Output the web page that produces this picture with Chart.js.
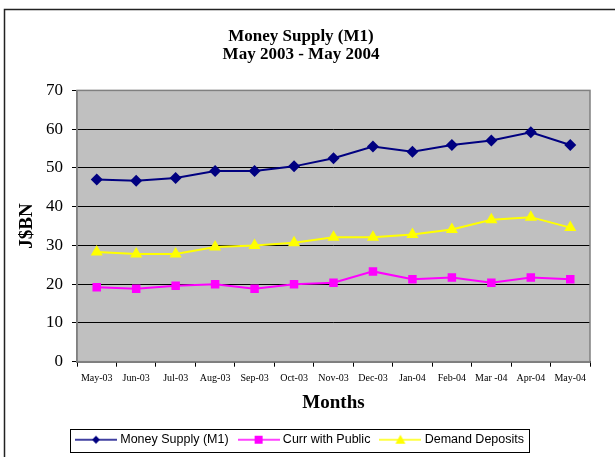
<!DOCTYPE html>
<html>
<head>
<meta charset="utf-8">
<script src="https://cdn.jsdelivr.net/npm/chart.js@4"></script>
<style>
  html, body { margin: 0; padding: 0; background: #fff; }
  #wrap { width: 615px; height: 457px; }
</style>
</head>
<body>
<div id="wrap"><canvas id="moneyChart" width="615" height="457"></canvas></div>
<script>
const months = ['May-03', 'Jun-03', 'Jul-03', 'Aug-03', 'Sep-03', 'Oct-03', 'Nov-03',
                'Dec-03', 'Jan-04', 'Feb-04', 'Mar -04', 'Apr-04', 'May-04'];
const moneySupply = [47.0, 46.7, 47.4, 49.2, 49.2, 50.4, 52.5, 55.5, 54.2, 55.9, 57.1, 59.2, 55.9];
const currWithPublic = [19.2, 18.8, 19.6, 20.0, 18.8, 20.0, 20.4, 23.3, 21.3, 21.7, 20.4, 21.7, 21.3];
const demandDeposits = [28.3, 27.8, 27.8, 29.6, 30.0, 30.7, 32.1, 32.1, 32.8, 34.1, 36.6, 37.3, 34.6];
const yTicks = [0, 10, 20, 30, 40, 50, 60, 70];

const serif = '"Liberation Serif", "Times New Roman", serif';
const sans = '"Liberation Sans", Arial, sans-serif';

// little line+marker swatch for the legend, like Excel draws it
function swatch(color, style, r) {
    const c = document.createElement('canvas');
    c.width = 42; c.height = 12;
    const g = c.getContext('2d');
    g.strokeStyle = color; g.lineWidth = 1.5;
    g.beginPath(); g.moveTo(0, 6); g.lineTo(42, 6); g.stroke();
    g.fillStyle = color;
    g.beginPath();
    if (style === 'diamond') {
        g.moveTo(21, 6 - r); g.lineTo(21 + r, 6); g.lineTo(21, 6 + r); g.lineTo(21 - r, 6);
    } else if (style === 'square') {
        g.rect(21 - r, 6 - r, 2 * r, 2 * r);
    } else {
        g.moveTo(21, 6 - r); g.lineTo(21 + r, 6 + r * 0.8); g.lineTo(21 - r, 6 + r * 0.8);
    }
    g.closePath(); g.fill();
    return c;
}

const frame = {
    id: 'frame',
    beforeDraw(chart) {
        const ctx = chart.ctx, a = chart.chartArea;
        ctx.save();
        ctx.fillStyle = '#fff';
        ctx.fillRect(0, 0, chart.width, chart.height);
        ctx.strokeStyle = '#222';
        ctx.lineWidth = 1.5;
        ctx.strokeRect(4.5, 9.5, 800, 800);
        ctx.fillStyle = '#c0c0c0';
        ctx.fillRect(a.left, a.top, a.right - a.left, a.bottom - a.top);
        ctx.restore();
    },
    afterDraw(chart) {
        const ctx = chart.ctx, a = chart.chartArea;
        ctx.save();
        ctx.strokeStyle = '#808080';
        ctx.lineWidth = 1.5;
        ctx.strokeRect(a.left, a.top, a.right - a.left, a.bottom - a.top);
        const boxes = chart.legend.legendHitBoxes;
        if (boxes && boxes.length) {
            const l = Math.min(...boxes.map(b => b.left)) - 8;
            const r = Math.max(...boxes.map(b => b.left + b.width)) + 5;
            const t = boxes[0].top - 5;
            const h = boxes[0].height + 10;
            ctx.strokeStyle = '#000';
            ctx.lineWidth = 1;
            ctx.strokeRect(Math.round(l) + 0.5, Math.round(t) + 0.5, Math.round(r - l), Math.round(h));
        }
        ctx.restore();
    }
};

const ctx = document.getElementById('moneyChart').getContext('2d');

new Chart(ctx, {
    type: 'line',
    data: {
        labels: months,
        datasets: [{
            label: 'Money Supply (M1)',
            data: moneySupply,
            borderColor: '#000080',
            backgroundColor: '#000080',
            pointStyle: 'rectRot',
            pointRadius: 6,
            legendSwatch: swatch('#000080', 'diamond', 4)
        }, {
            label: 'Curr with Public',
            data: currWithPublic,
            borderColor: '#ff00ff',
            backgroundColor: '#ff00ff',
            pointStyle: 'rect',
            pointRadius: 6,
            legendSwatch: swatch('#ff00ff', 'square', 4)
        }, {
            label: 'Demand Deposits',
            data: demandDeposits,
            borderColor: '#ffff00',
            backgroundColor: '#ffff00',
            pointStyle: 'triangle',
            pointRadius: 7,
            legendSwatch: swatch('#ffff00', 'triangle', 5)
        }]
    },
    options: {
        responsive: false,
        animation: false,
        layout: { padding: { top: 27, left: 12, right: 25, bottom: 1 } },
        elements: {
            line: { borderWidth: 2, tension: 0 },
            point: { borderWidth: 0, hoverRadius: 6 }
        },
        scales: {
            x: {
                offset: true,
                grid: { offset: true, drawOnChartArea: false, drawTicks: true, tickLength: 5, color: '#000' },
                border: { color: '#000', width: 1.5 },
                ticks: { font: { family: serif, size: 10 }, color: '#000', maxRotation: 0, autoSkip: false, padding: 6 },
                title: { display: true, text: 'Months', font: { family: serif, size: 19, weight: 'bold' }, color: '#000', padding: { top: 1, bottom: 7 } }
            },
            y: {
                min: 0, max: 70,
                afterBuildTicks(scale) { scale.ticks = yTicks.map(v => ({ value: v })); },
                afterFit(scale) { scale.width = 65; },
                grid: { color: '#000', lineWidth: 1, tickLength: 5 },
                border: { color: '#808080', width: 1.5 },
                ticks: { font: { family: serif, size: 17 }, color: '#000', padding: 9 },
                title: { display: true, text: 'J$BN', font: { family: serif, size: 19, weight: 'bold' }, color: '#000' }
            }
        },
        plugins: {
            title: {
                display: true,
                text: ['Money Supply (M1)', 'May 2003 - May 2004'],
                font: { family: serif, size: 17, weight: 'bold', lineHeight: 1.1 },
                color: '#000',
                padding: { top: 0, bottom: 26 }
            },
            legend: {
                position: 'bottom',
                labels: {
                    usePointStyle: true,
                    pointStyleWidth: 36,
                    font: { family: sans, size: 12.5 },
                    color: '#000',
                    padding: 12,
                    generateLabels(chart) {
                        return chart.data.datasets.map((ds, i) => ({
                            text: ds.label,
                            pointStyle: ds.legendSwatch,
                            fillStyle: ds.backgroundColor,
                            strokeStyle: ds.borderColor,
                            lineWidth: 0,
                            hidden: false,
                            datasetIndex: i
                        }));
                    }
                }
            },
            tooltip: { enabled: false }
        }
    },
    plugins: [frame]
});
</script>
</body>
</html>
